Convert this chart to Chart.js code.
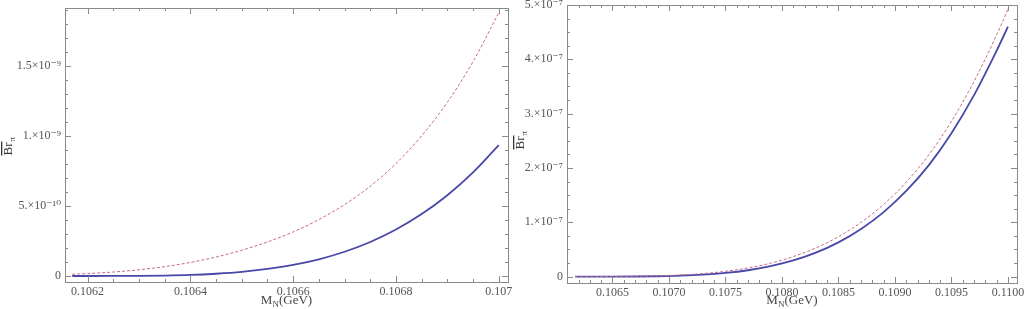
<!DOCTYPE html>
<html>
<head>
<meta charset="utf-8">
<script src="https://cdn.jsdelivr.net/npm/chart.js@4.4.1/dist/chart.umd.min.js"></script>
<style>
  html, body { margin: 0; padding: 0; background: #fff; }
  #wrap { position: relative; width: 1024px; height: 309px; }
  canvas { position: absolute; top: 0; }
</style>
</head>
<body>
<div id="wrap">
  <canvas id="leftChart" width="512" height="309" style="left:0"></canvas>
  <canvas id="rightChart" width="512" height="309" style="left:512px"></canvas>
</div>
<script>
// left panel: M_N (GeV) and Br_pi
const leftMass = [0.10617, 0.1062, 0.10625, 0.1063, 0.10635, 0.1064, 0.10645, 0.1065, 0.10655,
  0.1066, 0.10665, 0.1067, 0.10675, 0.1068, 0.10685, 0.1069, 0.10695, 0.107];
const leftSolid = [0, 0, 0.0001e-9, 0.0009e-9, 0.003e-9, 0.0075e-9, 0.016e-9, 0.029e-9, 0.05e-9,
  0.079e-9, 0.119e-9, 0.173e-9, 0.243e-9, 0.332e-9, 0.442e-9, 0.577e-9, 0.74e-9, 0.935e-9];
const leftDashed = [0.0125e-9, 0.0172e-9, 0.0283e-9, 0.0444e-9, 0.0669e-9, 0.0969e-9, 0.1355e-9, 0.184e-9, 0.243e-9,
  0.315e-9, 0.403e-9, 0.51e-9, 0.641e-9, 0.803e-9, 1.001e-9, 1.241e-9, 1.531e-9, 1.88e-9];
const leftXTicks = [0.1062, 0.1064, 0.1066, 0.1068, 0.107];
const leftXLabels = ["0.1062", "0.1064", "0.1066", "0.1068", "0.107"];
const leftYTicks = [0, 5e-10, 1e-9, 1.5e-9];
const leftYLabels = ["0", "5.\u00d710\u207b\u00b9\u2070", "1.\u00d710\u207b\u2079", "1.5\u00d710\u207b\u2079"];

// right panel
const rightMass = [0.10617, 0.1065, 0.1067, 0.1069, 0.1071, 0.1073, 0.1075, 0.1077, 0.1079, 0.1081,
  0.1083, 0.1085, 0.1087, 0.1089, 0.1091, 0.1093, 0.1095, 0.1097, 0.1099, 0.11];
const rightSolid = [0, 0.00025e-7, 0.0017e-7, 0.0061e-7, 0.016e-7, 0.0348e-7, 0.0669e-7, 0.117e-7, 0.1915e-7, 0.2966e-7,
  0.44e-7, 0.63e-7, 0.876e-7, 1.187e-7, 1.576e-7, 2.052e-7, 2.64e-7, 3.34e-7, 4.16e-7, 4.6e-7];
const rightDashed = [0.000125e-7, 0.0018e-7, 0.0051e-7, 0.0124e-7, 0.0296e-7, 0.0557e-7, 0.097e-7, 0.159e-7, 0.247e-7, 0.368e-7,
  0.528e-7, 0.734e-7, 0.999e-7, 1.329e-7, 1.741e-7, 2.243e-7, 2.859e-7, 3.594e-7, 4.451e-7, 4.92e-7];
const rightXTicks = [0.1065, 0.107, 0.1075, 0.108, 0.1085, 0.109, 0.1095, 0.11];
const rightXLabels = ["0.1065", "0.1070", "0.1075", "0.1080", "0.1085", "0.1090", "0.1095", "0.1100"];
const rightYTicks = [0, 1e-7, 2e-7, 3e-7, 4e-7, 5e-7];
const rightYLabels = ["0", "1.\u00d710\u207b\u2077", "2.\u00d710\u207b\u2077", "3.\u00d710\u207b\u2077",
  "4.\u00d710\u207b\u2077", "5.\u00d710\u207b\u2077"];

const SOLID = "#4848a8";
const DASHED = "#c46a8e";
const FRAME = "#8a8a8a";
const TEXT = "#555";
const FONT = "'Liberation Serif', 'DejaVu Serif', serif";

// frame with inward ticks on all four sides, plus axis titles
const framePlugin = {
  id: "frame",
  afterDraw(chart, args, o) {
    const { ctx, chartArea: a, scales } = chart;
    ctx.save();
    ctx.strokeStyle = FRAME;
    ctx.lineWidth = 1;
    ctx.strokeRect(a.left + 0.5, a.top + 0.5, a.right - a.left, a.bottom - a.top);

    const tickSet = (scale, step, sub) => {
      const out = [];
      const minor = step / sub;
      const i0 = Math.ceil(scale.min / minor - 1e-6);
      const i1 = Math.floor(scale.max / minor + 1e-6);
      for (let i = i0; i <= i1; i++) {
        const v = i * minor;
        const major = Math.abs(Math.round(i / sub) * sub - i) < 1e-6;
        out.push({ p: Math.round(scale.getPixelForValue(v)) + 0.5, len: major ? 6 : 3 });
      }
      return out;
    };
    ctx.beginPath();
    tickSet(scales.x, o.xStep, o.xSub).forEach(t => {
      ctx.moveTo(t.p, a.bottom); ctx.lineTo(t.p, a.bottom - t.len);
      ctx.moveTo(t.p, a.top); ctx.lineTo(t.p, a.top + t.len);
    });
    tickSet(scales.y, o.yStep, o.ySub).forEach(t => {
      ctx.moveTo(a.left, t.p); ctx.lineTo(a.left + t.len, t.p);
      ctx.moveTo(a.right, t.p); ctx.lineTo(a.right - t.len, t.p);
    });
    ctx.stroke();

    // x title: M_N(GeV)
    ctx.fillStyle = "#444";
    ctx.textBaseline = "alphabetic";
    ctx.font = "13px " + FONT;
    const wM = ctx.measureText("M").width;
    const wG = ctx.measureText("(GeV)").width;
    ctx.font = "9px " + FONT;
    const wN = ctx.measureText("N").width;
    let x = (a.left + a.right) / 2 + o.xTitleShift - (wM + wN + wG) / 2;
    const y = 304;
    ctx.font = "13px " + FONT;
    ctx.fillText("M", x, y); x += wM;
    ctx.font = "9px " + FONT;
    ctx.fillText("N", x, y + 3); x += wN;
    ctx.font = "13px " + FONT;
    ctx.fillText("(GeV)", x, y);

    // y title: Br (overlined) with subscript pi, rotated
    ctx.translate(o.yTitleX, o.yTitleY);
    ctx.rotate(-Math.PI / 2);
    ctx.fillStyle = "#333";
    ctx.font = "13px " + FONT;
    const wB = ctx.measureText("Br").width;
    ctx.fillText("Br", -wB / 2 - 3, 0);
    ctx.fillRect(-wB / 2 - 3, -11, wB + 1, 1.3);
    ctx.font = "9px " + FONT;
    ctx.fillText("\u03c0", wB / 2 - 2, 3);
    ctx.restore();
  }
};

function makeChart(id, mass, solid, dashed, xr, yr, xTicks, xLabels, yTicks, yLabels, box, fo) {
  return new Chart(document.getElementById(id), {
    type: "line",
    data: {
      datasets: [
        { data: mass.map((m, i) => ({ x: m, y: dashed[i] })), borderColor: DASHED, borderWidth: 1,
          borderDash: [3, 2], pointRadius: 0, cubicInterpolationMode: "monotone", fill: false },
        { data: mass.map((m, i) => ({ x: m, y: solid[i] })), borderColor: SOLID, borderWidth: 1.8,
          pointRadius: 0, cubicInterpolationMode: "monotone", fill: false }
      ]
    },
    options: {
      responsive: false,
      animation: false,
      events: [],
      layout: { padding: { top: box.top, right: box.right, left: 0, bottom: 0 } },
      plugins: { legend: { display: false }, tooltip: { enabled: false }, frame: fo },
      scales: {
        x: {
          type: "linear", min: xr[0], max: xr[1],
          grid: { display: false, drawTicks: false }, border: { display: false },
          ticks: { color: TEXT, font: { family: FONT, size: 12 }, padding: 3, maxRotation: 0, autoSkip: false,
            callback: (v, i) => xLabels[i] },
          afterBuildTicks: s => { s.ticks = xTicks.map(v => ({ value: v })); },
          afterFit: s => { s.height = box.xh; s.paddingLeft = 0; s.paddingRight = 0; }
        },
        y: {
          type: "linear", min: yr[0], max: yr[1],
          grid: { display: false, drawTicks: false }, border: { display: false },
          ticks: { color: TEXT, font: { family: FONT, size: 12 }, padding: 4, autoSkip: false,
            callback: (v, i) => yLabels[i] },
          afterBuildTicks: s => { s.ticks = yTicks.map(v => ({ value: v })); },
          afterFit: s => { s.width = box.yw; s.paddingTop = 0; s.paddingBottom = 0; }
        }
      }
    },
    plugins: [framePlugin]
  });
}

makeChart("leftChart", leftMass, leftSolid, leftDashed,
  [0.106156, 0.107018], [-4.3e-11, 1.914e-9],
  leftXTicks, leftXLabels, leftYTicks, leftYLabels,
  { top: 8, right: 4, xh: 27, yw: 65 },
  { xStep: 0.0002, xSub: 4, yStep: 5e-10, ySub: 5, yTitleX: 12, yTitleY: 146, xTitleShift: 0 });

makeChart("rightChart", rightMass, rightSolid, rightDashed,
  [0.106098, 0.11008], [-1.18e-8, 5e-7],
  rightXTicks, rightXLabels, rightYTicks, rightYLabels,
  { top: 5, right: 7, xh: 26, yw: 55 },
  { xStep: 0.0005, xSub: 5, yStep: 1e-7, ySub: 4, yTitleX: 12, yTitleY: 140, xTitleShift: 0 });
</script>
</body>
</html>
